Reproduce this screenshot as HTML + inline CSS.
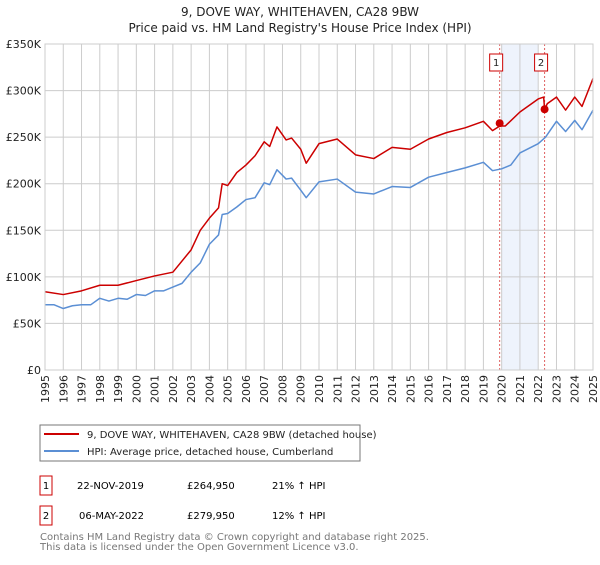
<!DOCTYPE html>
<html><head><meta charset="utf-8"><style>
body{margin:0;background:#fff;font-family:"Liberation Sans","DejaVu Sans",sans-serif;}
svg text{font-family:"DejaVu Sans","Liberation Sans",sans-serif;}
</style></head><body>
<svg id="c" width="600" height="560" viewBox="0 0 600 560" xmlns="http://www.w3.org/2000/svg">
<text x="300" y="16" text-anchor="middle" font-size="12" fill="#222">9, DOVE WAY, WHITEHAVEN, CA28 9BW</text>
<text x="300" y="32" text-anchor="middle" font-size="12" fill="#222">Price paid vs. HM Land Registry's House Price Index (HPI)</text>
<g id="plot"></g>
<rect x="40" y="425" width="320" height="36" fill="#fff" stroke="#777"/>
<line x1="44" y1="434" x2="79" y2="434" stroke="#cc0000" stroke-width="2"/>
<text x="87" y="438" font-size="10" fill="#222">9, DOVE WAY, WHITEHAVEN, CA28 9BW (detached house)</text>
<line x1="44" y1="451" x2="79" y2="451" stroke="#5b8fd4" stroke-width="2"/>
<text x="87" y="455" font-size="10" fill="#222">HPI: Average price, detached house, Cumberland</text>
<g>
<rect x="40" y="476" width="12" height="19" fill="#fff" stroke="#cc0000"/>
<text x="46" y="489" text-anchor="middle" font-size="10">1</text>
<text x="77" y="489" font-size="10">22-NOV-2019</text>
<text x="187" y="489" font-size="10">£264,950</text>
<text x="272" y="489" font-size="10">21% ↑ HPI</text></g>
<g>
<rect x="40" y="506" width="12" height="19" fill="#fff" stroke="#cc0000"/>
<text x="46" y="519" text-anchor="middle" font-size="10">2</text>
<text x="79" y="519" font-size="10">06-MAY-2022</text>
<text x="187" y="519" font-size="10">£279,950</text>
<text x="272" y="519" font-size="10">12% ↑ HPI</text></g>
<text x="40" y="540" font-size="10" fill="#777">Contains HM Land Registry data © Crown copyright and database right 2025.</text>
<text x="40" y="550" font-size="10" fill="#777">This data is licensed under the Open Government Licence v3.0.</text>
</svg>
<script>
const hpiYears=[1995,1995.5,1996,1996.5,1997,1997.5,1998,1998.5,1999,1999.5,2000,2000.5,2001,2001.5,2002,2002.5,2003,2003.5,2004,2004.5,2004.7,2005,2005.5,2006,2006.5,2007,2007.3,2007.7,2008.2,2008.5,2009,2009.3,2010,2011,2012,2013,2014,2015,2016,2017,2018,2019,2019.5,2020,2020.5,2021,2022,2022.4,2023,2023.5,2024,2024.4,2025];
const hpiValues=[70,70,66,69,70,70,77,74,77,76,81,80,85,85,89,93,105,115,135,145,167,168,175,183,185,201,199,215,205,206,193,185,202,205,191,189,197,196,207,212,217,223,214,216,220,233,243,250,267,256,268,258,279];
const priceYears=[1995,1996,1997,1998,1999,2000,2001,2002,2003,2003.5,2004,2004.5,2004.7,2005,2005.5,2006,2006.5,2007,2007.3,2007.7,2008.2,2008.5,2009,2009.3,2010,2011,2012,2013,2014,2015,2016,2017,2018,2019,2019.5,2019.9,2020.2,2021,2022,2022.3,2022.35,2022.5,2023,2023.5,2024,2024.4,2025];
const priceValues=[84,81,85,91,91,96,101,105,129,150,163,174,200,198,212,220,230,245,240,261,247,249,237,222,243,248,231,227,239,237,248,255,260,267,257,262,262,277,291,293,280,286,293,279,293,283,313];
const saleYears=[2019.89,2022.35];
const saleValues=[264950,279950];
const yTicks=[0,50,100,150,200,250,300,350];
const yTickLabels=["£0","£50K","£100K","£150K","£200K","£250K","£300K","£350K"];
const xTicks=[1995,1996,1997,1998,1999,2000,2001,2002,2003,2004,2005,2006,2007,2008,2009,2010,2011,2012,2013,2014,2015,2016,2017,2018,2019,2020,2021,2022,2023,2024,2025];

const NS="http://www.w3.org/2000/svg";
const L=45,R=593,T=44,B=370;
const X=y=>L+(y-1995)/30*(R-L);
const Y=v=>B-v/350*(B-T);
const g=document.getElementById('plot');
function mk(t,a,p){const e=document.createElementNS(NS,t);for(const k in a)e.setAttribute(k,a[k]);(p||g).appendChild(e);return e;}
let sh=mk('rect',{x:X(2020),y:T,width:X(2022)-X(2020),height:B-T,fill:'#eef3fc'});


yTicks.forEach((v,i)=>{
 let l=mk('line',{x1:L,x2:R,y1:Y(v),y2:Y(v),stroke:'#ccc'});
 
 
 let t=mk('text',{x:L-4,y:Y(v)+4,'text-anchor':'end','font-size':11,fill:'#222'});
 
 
 t.textContent=yTickLabels[i];
});
xTicks.forEach(yr=>{
 let l=mk('line',{x1:X(yr),x2:X(yr),y1:T,y2:B,stroke:'#ccc'});
 
 
 let t=mk('text',{x:0,y:0,'text-anchor':'end','font-size':11,fill:'#222',transform:`translate(${X(yr)+4},375) rotate(-90)`});
 
 
 t.textContent=yr;
});
saleYears.forEach((yr,i)=>{
 let l=mk('line',{x1:X(yr),x2:X(yr),y1:T,y2:B,stroke:'#e06060','stroke-dasharray':'2,2'});
 
 
 let bx=mk('rect',{x:X(yr)-10,y:54,width:13,height:17,fill:'#fff',stroke:'#cc0000'});
 
 
 let t=mk('text',{x:X(yr)-3.5,y:66,'text-anchor':'middle','font-size':10,fill:'#222'});
 
 
 t.textContent=i+1;
});
function line(xs,vs,col,name){
 let p=mk('polyline',{points:xs.map((x,i)=>X(x)+','+Y(vs[i])).join(' '),fill:'none',stroke:col,'stroke-width':1.5,'stroke-linejoin':'round'});
 
 
}
line(hpiYears,hpiValues,'#5b8fd4','hpi-line');
line(priceYears,priceValues,'#cc0000','price-paid-line');
saleYears.forEach((yr,i)=>{
 let c=mk('circle',{cx:X(yr),cy:Y(saleValues[i]/1000),r:4,fill:'#cc0000'});
 
 
});
let ax=mk('rect',{x:L,y:T,width:R-L,height:B-T,fill:'none',stroke:'#ccc'});


</script>
</body></html>
